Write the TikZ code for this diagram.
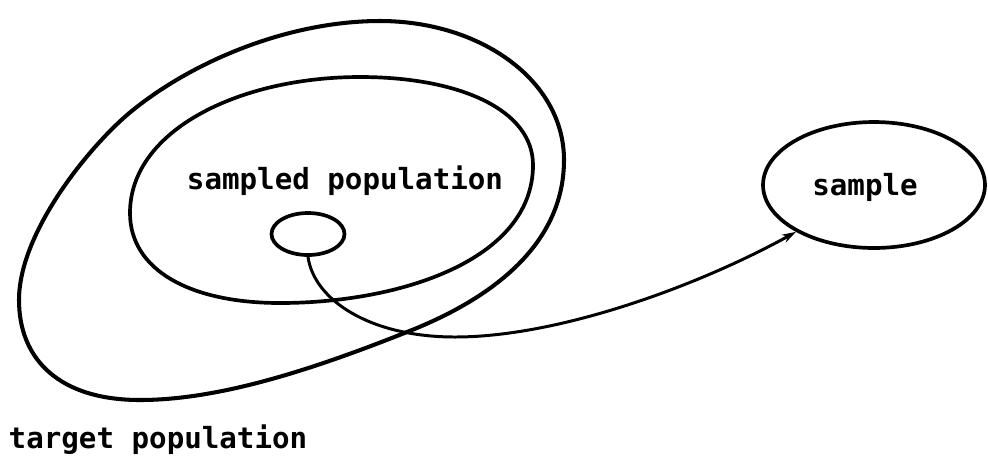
\documentclass[tikz,border=0pt]{standalone}
\usepackage{fontspec}
\setmonofont{DejaVu Sans Mono}
\usetikzlibrary{shapes.geometric,arrows.meta}
\tikzset{
  lbl/.style={font=\ttfamily\bfseries\fontsize{16.6}{18}\selectfont, inner sep=0pt},
  outerline/.style={line width=2.3pt, line join=round},
  innerline/.style={line width=2.1pt, line join=round},
  oval/.style={draw, ellipse, line width=2.1pt, inner sep=0pt},
  link/.style={line width=1.7pt, -{Stealth[length=8pt,width=5pt]}},
}
\begin{document}
\begin{tikzpicture}[x=0.02cm, y=-0.02cm]
\useasboundingbox (0,0) rectangle (988,458);
% target population (outer loop)
\draw[outerline] (380,21) .. controls (480,21) and (564,80) .. (564,160)
  .. controls (564,260) and (463,310) .. (407,332)
  .. controls (314,369) and (220,400) .. (140,400)
  .. controls (60,400) and (19,360) .. (19,300)
  .. controls (19,230) and (94,141) .. (133,110)
  .. controls (195,60) and (290,21) .. cycle;
% sampled population (inner loop)
\draw[innerline] (360,77) .. controls (460,77) and (533,110) .. (533,165)
  .. controls (533,260) and (400,303) .. (280,303)
  .. controls (190,303) and (130,270) .. (130,213)
  .. controls (130,130) and (240,77) .. cycle;
\node[lbl] (sp) at (345,181) {sampled population};
\node[lbl] (tp) at (158,440) {target population};
% small subset
\node[oval, minimum width=1.46cm, minimum height=0.84cm] (sub) at (308,234) {};
% sample
\node[oval, minimum width=4.44cm, minimum height=2.52cm] (sample) at (874,185) {};
\node[lbl] (st) at (865,187) {sample};
\coordinate (low) at (455,337);
\draw[link] (sub.south) .. controls (314,300) and (370,337) .. (low)
  .. controls (560,337) and (700,285) .. (sample.211);
\end{tikzpicture}
\end{document}
